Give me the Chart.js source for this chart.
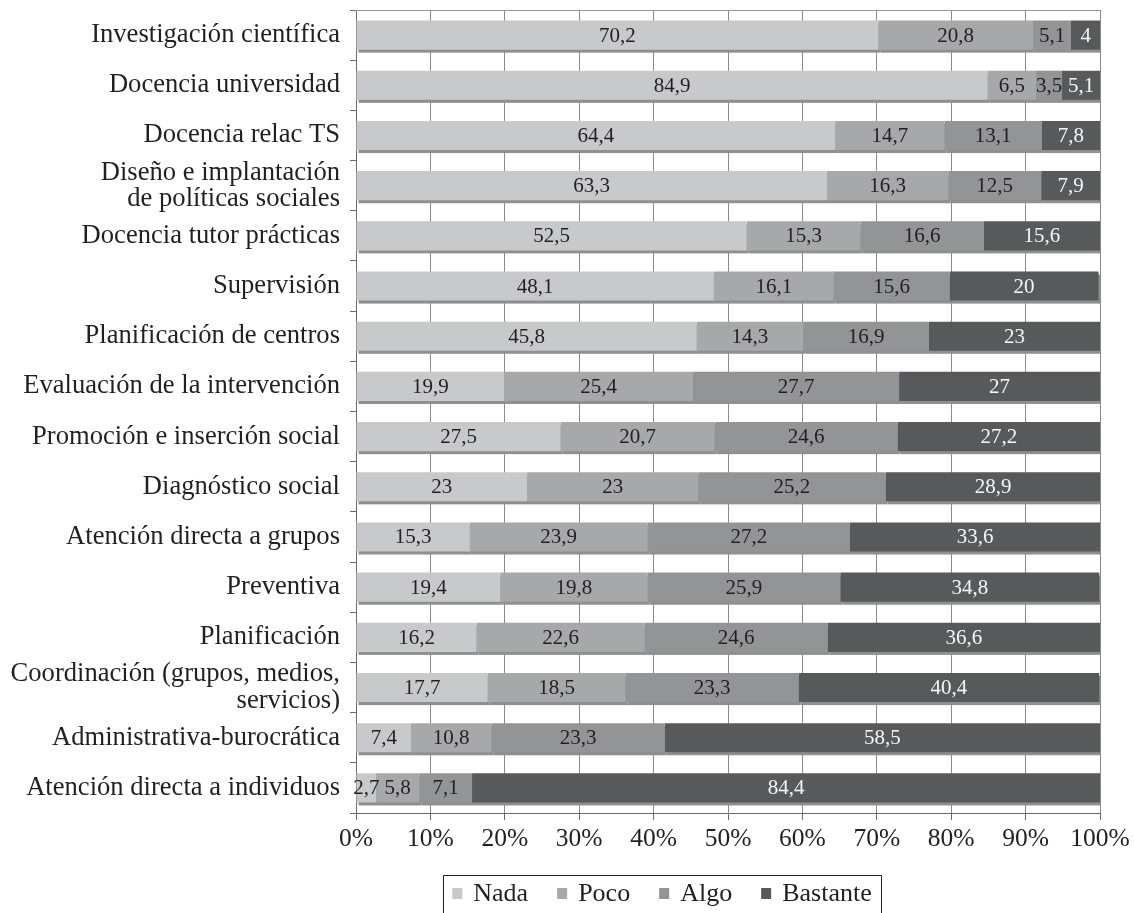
<!DOCTYPE html>
<html>
<head>
<meta charset="utf-8">
<script src="https://cdn.jsdelivr.net/npm/chart.js@4.4.1/dist/chart.umd.min.js"></script>
<style>
  html, body { margin: 0; padding: 0; background: #ffffff; }
  #wrap { width: 1134px; height: 913px; position: relative; }
</style>
</head>
<body>
<div id="wrap"><canvas id="chart"></canvas></div>
<script>
// Activities of social workers: share (%) by degree of involvement
const categories = [
  'Investigación científica',
  'Docencia universidad',
  'Docencia relac TS',
  ['Diseño e implantación', 'de políticas sociales'],
  'Docencia tutor prácticas',
  'Supervisión',
  'Planificación de centros',
  'Evaluación de la intervención',
  'Promoción e inserción social',
  'Diagnóstico social',
  'Atención directa a grupos',
  'Preventiva',
  'Planificación',
  ['Coordinación (grupos, medios,', 'servicios)'],
  'Administrativa-burocrática',
  'Atención directa a individuos'
];
const nada     = [70.2, 84.9, 64.4, 63.3, 52.5, 48.1, 45.8, 19.9, 27.5, 23.0, 15.3, 19.4, 16.2, 17.7,  7.4,  2.7];
const poco     = [20.8,  6.5, 14.7, 16.3, 15.3, 16.1, 14.3, 25.4, 20.7, 23.0, 23.9, 19.8, 22.6, 18.5, 10.8,  5.8];
const algo     = [ 5.1,  3.5, 13.1, 12.5, 16.6, 15.6, 16.9, 27.7, 24.6, 25.2, 27.2, 25.9, 24.6, 23.3, 23.3,  7.1];
const bastante = [ 4.0,  5.1,  7.8,  7.9, 15.6, 20.0, 23.0, 27.0, 27.2, 28.9, 33.6, 34.8, 36.6, 40.4, 58.5, 84.4];
const seriesNames = ['Nada', 'Poco', 'Algo', 'Bastante'];
const xTickValues = [0, 10, 20, 30, 40, 50, 60, 70, 80, 90, 100];

const seriesValues = [nada, poco, algo, bastante];
const seriesColors = ['#c8c9cb', '#a7a8aa', '#939496', '#58595b'];
const valueTextColors = ['#231f20', '#231f20', '#231f20', '#f6f6f6'];
const SERIF = '"Liberation Serif", "Times New Roman", Times, serif';

Chart.defaults.font.family = SERIF;
Chart.defaults.color = '#231f20';

const fmt = v => String(v).replace('.', ',');

// thin offset strip under each bar (drawn before the bars themselves)
const barShadow = {
  id: 'barShadow',
  beforeDatasetsDraw(chart) {
    const ctx = chart.ctx, a = chart.chartArea;
    ctx.save();
    ctx.beginPath();
    ctx.rect(a.left, a.top, a.right - a.left, a.bottom - a.top);
    ctx.clip();
    ctx.fillStyle = '#8e8f91';
    chart.data.datasets.forEach((ds, i) => {
      chart.getDatasetMeta(i).data.forEach(bar => {
        const p = bar.getProps(['x', 'y', 'base', 'height'], true);
        const l = Math.min(p.x, p.base), w = Math.abs(p.x - p.base);
        ctx.fillRect(l + 2, p.y - p.height / 2 + 3, w, p.height);
      });
    });
    ctx.restore();
  }
};

// value written in the middle of each segment
const segmentValues = {
  id: 'segmentValues',
  afterDatasetsDraw(chart) {
    const ctx = chart.ctx;
    ctx.save();
    ctx.font = '21px ' + SERIF;
    ctx.textAlign = 'center';
    ctx.textBaseline = 'middle';
    chart.data.datasets.forEach((ds, i) => {
      ctx.fillStyle = valueTextColors[i];
      chart.getDatasetMeta(i).data.forEach((bar, j) => {
        const p = bar.getProps(['x', 'y', 'base'], true);
        ctx.fillText(fmt(ds.data[j]), (p.x + p.base) / 2, p.y + 1);
      });
    });
    ctx.restore();
  }
};

// top frame line + boxed legend under the axis
const frameAndLegend = {
  id: 'frameAndLegend',
  afterDraw(chart) {
    const ctx = chart.ctx, a = chart.chartArea;
    ctx.save();
    ctx.strokeStyle = '#9a9a9a';
    ctx.lineWidth = 1;
    ctx.beginPath();
    ctx.moveTo(a.left, a.top + 0.5);
    ctx.lineTo(a.right, a.top + 0.5);
    ctx.stroke();

    ctx.font = '26px ' + SERIF;
    ctx.textBaseline = 'middle';
    ctx.textAlign = 'left';
    const box = 10, gapText = 11, gapItem = 29, padX = 9;
    const widths = seriesNames.map(n => ctx.measureText(n).width);
    const total = widths.reduce((s, w) => s + box + gapText + w, 0) + gapItem * (seriesNames.length - 1);
    const cx = 662, cy = 893;
    let x = cx - total / 2;
    const left = x - padX, right = x + total + padX;
    ctx.strokeStyle = '#231f20';
    ctx.beginPath();
    ctx.moveTo(Math.round(left) + 0.5, chart.height + 5);
    ctx.lineTo(Math.round(left) + 0.5, 875.5);
    ctx.lineTo(Math.round(right) + 0.5, 875.5);
    ctx.lineTo(Math.round(right) + 0.5, chart.height + 5);
    ctx.stroke();
    seriesNames.forEach((n, i) => {
      ctx.fillStyle = seriesColors[i];
      ctx.fillRect(x, cy - 5, box, 11);
      ctx.fillStyle = '#231f20';
      ctx.fillText(n, x + box + gapText, cy + 1);
      x += box + gapText + widths[i] + gapItem;
    });
    ctx.restore();
  }
};

new Chart(document.getElementById('chart'), {
  type: 'bar',
  data: {
    labels: categories,
    datasets: seriesNames.map((name, i) => ({
      label: name,
      data: seriesValues[i],
      backgroundColor: seriesColors[i],
      borderWidth: 0,
      categoryPercentage: 1,
      barPercentage: 0.58,
      clip: 0
    }))
  },
  options: {
    indexAxis: 'y',
    responsive: true,
    maintainAspectRatio: false,
    animation: false,
    layout: { padding: { top: 10, right: 34, left: 0, bottom: 0 } },
    plugins: {
      legend: { display: false },
      tooltip: { enabled: false }
    },
    scales: {
      x: {
        stacked: true,
        min: 0,
        max: 100,
        afterBuildTicks: s => { s.ticks = xTickValues.map(v => ({ value: v })); },
        afterFit: s => { s.height = 100; },
        ticks: {
          callback: v => v + '%',
          font: { size: 25.5 },
          color: '#231f20',
          padding: 4,
          maxRotation: 0
        },
        grid: {
          color: '#8a8a8a',
          tickColor: '#6a6a6a',
          tickLength: 7,
          lineWidth: 1
        },
        border: { color: '#6a6a6a', width: 1 }
      },
      y: {
        stacked: true,
        afterFit: s => { s.width = 356; s.paddingTop = 0; s.paddingBottom = 0; },
        ticks: {
          font: { size: 26.6, lineHeight: 0.98 },
          color: '#231f20',
          padding: 10,
          autoSkip: false
        },
        grid: {
          drawOnChartArea: false,
          drawTicks: true,
          tickLength: 6,
          offset: true,
          tickColor: '#6a6a6a'
        },
        border: { color: '#6a6a6a', width: 1 }
      }
    }
  },
  plugins: [barShadow, segmentValues, frameAndLegend]
});
</script>
</body>
</html>
